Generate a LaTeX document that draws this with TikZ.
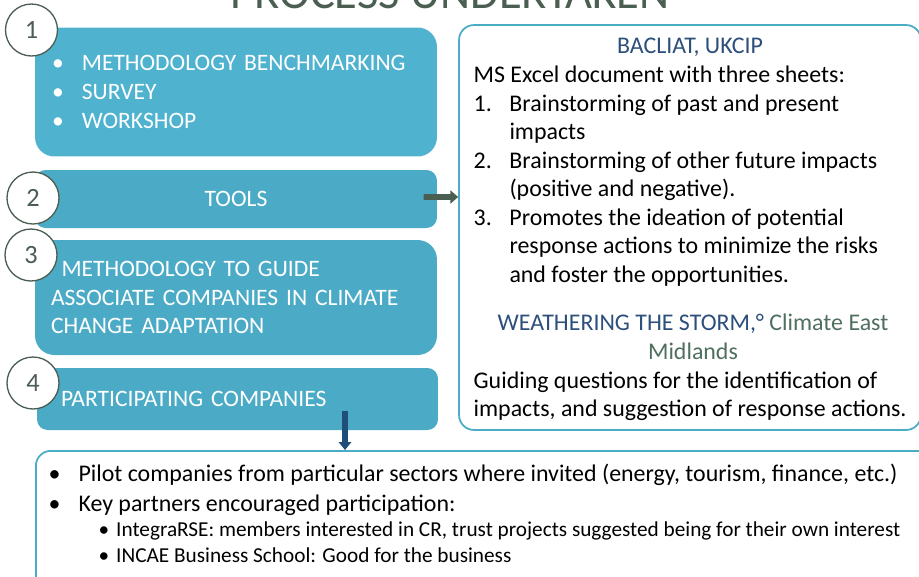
\documentclass[tikz,border=0pt]{standalone}
\usepackage{fontspec}
\setmainfont{Carlito}
\usetikzlibrary{arrows.meta,positioning}
\definecolor{stepteal}{HTML}{4FB2CF}
\definecolor{boxteal}{HTML}{4BABC6}
\definecolor{frameteal}{HTML}{4BACC6}
\definecolor{ringgray}{HTML}{4B5E52}
\definecolor{headblue}{HTML}{2C4F7C}
\definecolor{eastgreen}{HTML}{4F6F5F}
\definecolor{arrowgreen}{HTML}{4A5E52}
\definecolor{arrowblue}{HTML}{1F4E79}
\tikzset{every picture/.style={line width=0.75pt}}
\newcommand{\bul}{\makebox[17pt][l]{\textbullet}}
\newcommand{\itm}[1]{\makebox[20.4pt][l]{#1}}

\begin{document}
\begin{tikzpicture}[x=0.02cm, y=-0.02cm,
    stagebox/.style={fill=boxteal, text=white, minimum width=8.04cm, inner xsep=0pt,
      font=\fontsize{13.4}{16.4}\selectfont},
    numball/.style={circle, draw=ringgray, fill=white, text=ringgray, minimum size=1.04cm,
      inner sep=0pt, font=\fontsize{15}{18}\selectfont},
    framebox/.style={draw=frameteal, line width=1pt, rounded corners=8.5pt, fill=white},
    infotext/.style={anchor=base west, align=left, inner sep=0pt,
      font=\fontsize{13.6}{16.2}\selectfont}]
    \useasboundingbox (0,0) rectangle (919,576);
    % heading, cut by the page
    \node[anchor=base, font=\fontsize{26.5}{30}\selectfont, text=ringgray] (title) at (450,8) {PROCESS UNDERTAKEN};
    % the four steps
    \node[stagebox, fill=stepteal, rounded corners=11pt, minimum height=2.58cm, text width=7.36cm, align=left] (bench) at (236,92)
        {\bul METHODOLOGY BENCHMARKING\\ \bul SURVEY\\ \bul WORKSHOP};
    \node[stagebox, rounded corners=6pt, minimum height=1.16cm] (tools) at (236,199) {TOOLS};
    \node[stagebox, rounded corners=11pt, minimum height=2.3cm, text width=7.4cm, align=left] (guide) at (236,297.5)
        {\hspace*{6pt}METHODOLOGY TO GUIDE\\ASSOCIATE COMPANIES IN CLIMATE\\CHANGE ADAPTATION};
    \node[stagebox, rounded corners=6pt, minimum width=8.02cm, minimum height=1.24cm, text width=7.06cm, align=left] (partic) at (237.5,399)
        {PARTICIPATING COMPANIES};
    \foreach \n/\x/\y in {1/31.5/30, 2/33/198, 3/31/255, 4/33/383}
        \node[numball] (ring\n) at (\x,\y) {\n};
    % tools frame
    \node[framebox, minimum width=9.24cm, minimum height=8.1cm] (infobox) at (690,227.5) {};
    \node[anchor=base, text=headblue, font=\fontsize{13.6}{16.2}\selectfont] (bacliat) at (690,53) {BACLIAT, UKCIP};
    \node[infotext] (excel) at (473,282.2)
        {MS Excel document with three sheets:\\
         \itm{1.}Brainstorming of past and present\\
         \itm{}impacts\\
         \itm{2.}Brainstorming of other future impacts\\
         \itm{}(positive and negative).\\
         \itm{3.}Promotes the ideation of potential\\
         \itm{}response actions to minimize the risks\\
         \itm{}and foster the opportunities.};
    \node[anchor=base, align=center, text=headblue, font=\fontsize{13.6}{16.2}\selectfont] (storm) at (693,359)
        {WEATHERING THE STORM,° \textcolor{eastgreen}{Climate East}\\ \textcolor{eastgreen}{Midlands}};
    \node[infotext] (guiding) at (473,416.6)
        {Guiding questions for the identification of\\impacts, and suggestion of response actions.};
    % participants frame
    \node[framebox, anchor=north west, minimum width=18cm, minimum height=3cm] (partners) at (35,450) {};
    \node[infotext, font=\fontsize{13.6}{17}\selectfont] (pilot) at (48,511.7)
        {\bul Pilot companies from particular sectors where invited (energy, tourism, finance, etc.)\\
         \bul Key partners encouraged participation:};
    \node[infotext, font=\fontsize{12.1}{14.7}\selectfont] (integra) at (98,562.7)
        {\makebox[10pt][l]{\textbullet}IntegraRSE: members interested in CR, trust projects suggested being for their own interest\\
         \makebox[10pt][l]{\textbullet}INCAE Business School: Good for the business};
    % arrows
    \draw[arrowgreen, line width=3.4pt, -{Triangle[length=4.5pt, width=7.5pt]}]
        ([shift={(-14,-2)}]tools.east) -- ([yshift=0.04cm]tools.east -| infobox.west);
    \coordinate (drop) at ([shift={(107.5,-20)}]partic.south);
    \draw[arrowblue, line width=3pt, -{Triangle[length=4.5pt, width=7pt]}] (drop) -- (drop |- partners.north);
\end{tikzpicture}
\end{document}
